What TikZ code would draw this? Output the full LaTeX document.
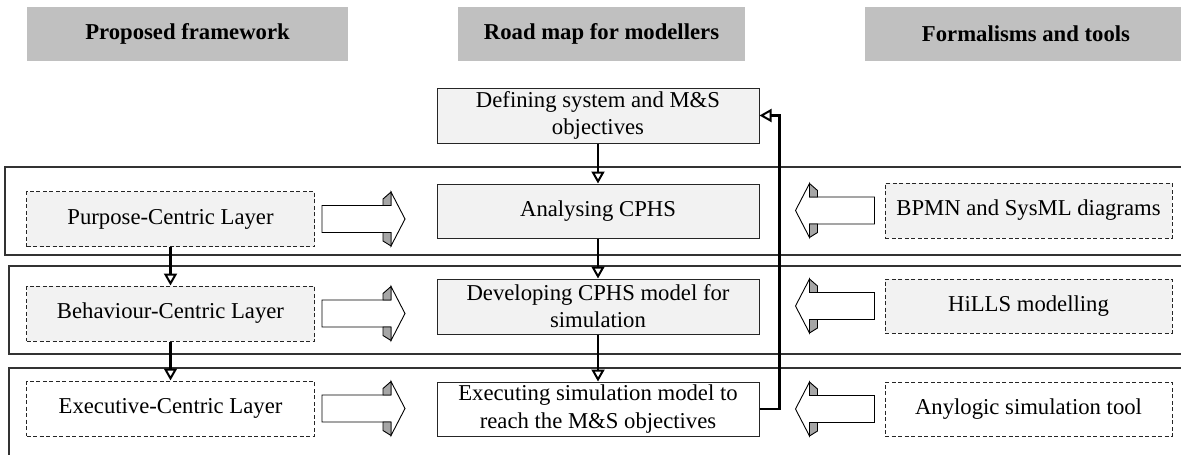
\documentclass[tikz,border=0pt]{standalone}
\usepackage{fontspec}
\setmainfont{Liberation Serif}
\usetikzlibrary{arrows.meta}
\definecolor{hdr}{HTML}{C0C0C0}
\definecolor{boxfill}{HTML}{F2F2F2}
\definecolor{arrgray}{HTML}{A6A6A6}
\definecolor{layerline}{HTML}{333333}
\tikzset{
  pics/blockarrow/.style={code={
    \draw[fill=white, line width=0.9pt, line join=miter]
      (-#1,-13.5) -- (0,-13.5) -- (0,-27) -- (14,0) -- (0,27) -- (0,13.5) -- (-#1,13.5) -- cycle;
    \draw[fill=arrgray, line width=0.9pt, line join=miter]
      (-8,-20) -- (0,-27) -- (0,-13.5) -- (-8,-13.5) -- cycle;
    \draw[fill=arrgray, line width=0.9pt, line join=miter]
      (-8,13.5) -- (0,13.5) -- (0,27) -- (-8,22) -- cycle;
  }}
}
\begin{document}
\begin{tikzpicture}[x=1pt,y=-1pt,
  txt/.style={font=\fontsize{22.7pt}{27.2pt}\selectfont, inner sep=0pt, align=center},
  header/.style={txt, fill=hdr, minimum height=54pt, font=\fontsize{22.7pt}{27.2pt}\selectfont\bfseries},
  roadbox/.style={txt, draw=black!85, line width=1pt, fill=boxfill, minimum width=322pt},
  roadwhite/.style={roadbox, fill=white},
  dashbox/.style={txt, draw=black!85, line width=1pt, dash pattern=on 4pt off 2.5pt, fill=boxfill, minimum width=288pt, minimum height=55pt},
  dashwhite/.style={dashbox, fill=white},
  layer/.style={draw=layerline, line width=1.1pt},
  conn/.style={line width=2.3pt, -{Triangle[open, length=12pt, width=13pt, line width=2pt]}}
]
\useasboundingbox (0,0) rectangle (1181,455);

% layer bands (cropped at right and bottom)
\begin{scope}
  \clip (0,0) rectangle (1181,455);
  \draw[layer] (5,167) rectangle (1200,255);
  \draw[layer] (9,266) rectangle (1200,354);
  \draw[layer] (9,368) rectangle (1200,480);
\end{scope}

% headers
\node[header, minimum width=321pt] (h1) at (187.5,34) {Proposed framework};
\node[header, minimum width=287pt] (h2) at (601.5,34) {Road map for modellers};
\node[header, minimum width=322pt] (h3) at (1026,34) {Formalisms and tools};

% road map column
\node[roadbox, minimum height=55pt] (def) at (598,115.5) {Defining system and M\&S\\objectives};
\node[roadbox, minimum height=54pt] (ana) at (598,211) {Analysing CPHS};
\node[roadbox, minimum height=55pt] (dev) at (598,306.5) {Developing CPHS model for\\simulation};
\node[roadwhite, minimum height=54pt] (exe) at (598,409) {Executing simulation model to\\reach the M\&S objectives};

% framework column
\node[dashbox] (pur) at (170.5,219) {Purpose-Centric Layer};
\node[dashbox] (beh) at (170.5,313.5) {Behaviour-Centric Layer};
\node[dashwhite] (exc) at (170.5,408.5) {Executive-Centric Layer};

% tools column
\node[dashbox, minimum width=287pt] (bpmn) at (1028.5,210.5) {BPMN and SysML diagrams};
\node[dashbox, minimum width=287pt, minimum height=54pt] (hills) at (1028.5,306) {HiLLS modelling};
\node[dashwhite, minimum width=287pt, minimum height=54pt] (any) at (1028.5,409) {Anylogic simulation tool};

% connectors
\draw[conn] (def.south) -- (ana.north);
\draw[conn] (ana.south) -- (dev.north);
\draw[conn] (dev.south) -- (exe.north);
\draw[conn] (pur.south) -- (beh.north);
\draw[conn] (beh.south) -- (exc.north);
\draw[conn] (exe.east) -| ([xshift=20pt]def.east) -- (def.east);

% block arrows
\pic at ([xshift=76pt]pur.east) {blockarrow=69};
\pic at ([xshift=76pt]beh.east) {blockarrow=69};
\pic at ([xshift=76pt]exc.east) {blockarrow=69};
\pic[xscale=-1] at ([xshift=-75pt]bpmn.west) {blockarrow=65};
\pic[xscale=-1] at ([xshift=-75pt]hills.west) {blockarrow=65};
\pic[xscale=-1] at ([xshift=-75pt]any.west) {blockarrow=65};
\end{tikzpicture}
\end{document}
